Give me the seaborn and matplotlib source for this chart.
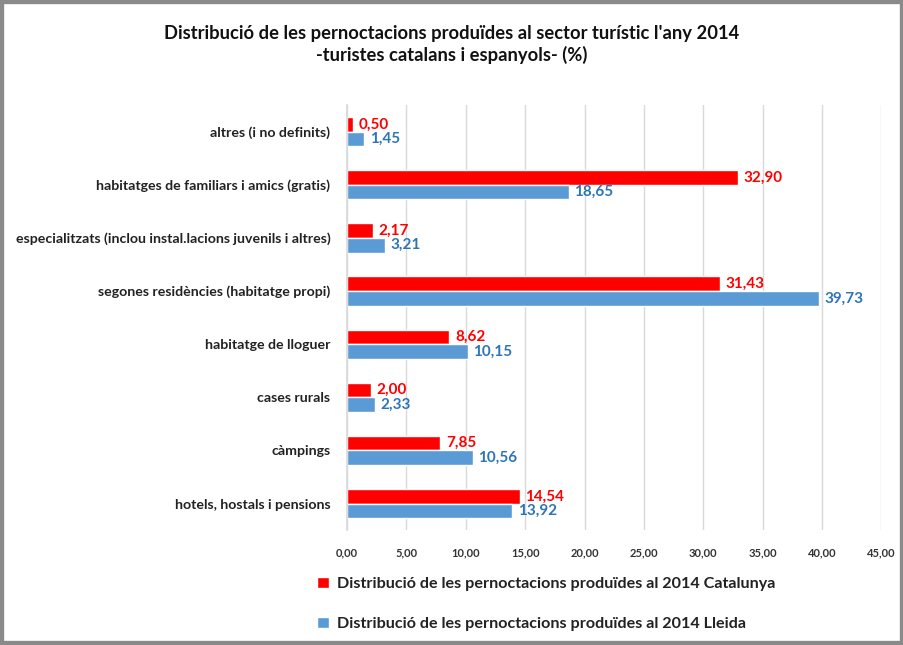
import seaborn as sns
import matplotlib.pyplot as plt
import pandas as pd
from matplotlib.patches import Rectangle

# Data
categories = ["altres (i no definits)",
              "habitatges de familiars i amics (gratis)",
              "especialitzats (inclou instal.lacions juvenils i altres)",
              "segones residències (habitatge propi)",
              "habitatge de lloguer",
              "cases rurals",
              "càmpings",
              "hotels, hostals i pensions"]
catalunya = [0.50, 32.90, 2.17, 31.43, 8.62, 2.00, 7.85, 14.54]
lleida = [1.45, 18.65, 3.21, 39.73, 10.15, 2.33, 10.56, 13.92]
series = ["Distribució de les pernoctacions produïdes al 2014 Catalunya",
          "Distribució de les pernoctacions produïdes al 2014 Lleida"]
xticks = [0, 5, 10, 15, 20, 25, 30, 35, 40, 45]

df = pd.DataFrame({
    "cat": categories * 2,
    "val": catalunya + lleida,
    "serie": [series[0]] * len(categories) + [series[1]] * len(categories),
})

sns.set_theme(style="white")
plt.rcParams['font.family'] = ['Lato', 'DejaVu Sans']

red = "#FF0000"
blue = "#5B9BD5"
red_txt = "#FF0000"
blue_txt = "#2E75B6"

fig = plt.figure(figsize=(9.04, 6.45), dpi=100)
ax = fig.add_axes([0.384, 0.178, 0.591, 0.659])

sns.barplot(data=df, x="val", y="cat", hue="serie", orient="h",
            palette=[red, blue], width=0.55, ax=ax, saturation=1,
            legend=True)

ax.set_xlim(0, 45)
ax.set_xticks(xticks)
ax.set_xticklabels([f"{t:.2f}".replace('.', ',') for t in xticks],
                   fontsize=8, fontweight='bold', color='#333333')
ax.tick_params(axis='x', length=0, pad=12)
ax.tick_params(axis='y', length=0, pad=12)
ax.set_yticks(range(len(categories)))
ax.set_yticklabels(categories, fontsize=10.2, fontweight='bold', color='#222222')
ax.set_xlabel("")
ax.set_ylabel("")
ax.xaxis.grid(True, color='#d9d9d9', lw=1)
ax.set_axisbelow(True)
for s in ['top', 'right', 'bottom']:
    ax.spines[s].set_visible(False)
ax.spines['left'].set_color('#d9d9d9')

# data labels
for cont, col in zip(ax.containers, [red_txt, blue_txt]):
    labels = [f"{b.get_width():.2f}".replace('.', ',') for b in cont]
    ax.bar_label(cont, labels=labels, padding=4, color=col,
                 fontsize=11, fontweight='bold')

# legend
handles, lbls = ax.get_legend_handles_labels()
ax.legend_.remove()
fig.legend(handles, lbls, loc='upper left', bbox_to_anchor=(0.335, 0.128),
           ncol=1, frameon=False, fontsize=11.6, handlelength=0.7,
           handleheight=0.7, labelspacing=1.6, handletextpad=0.5)
for t in fig.legends[0].get_texts():
    t.set_fontweight('bold')
    t.set_color('#222222')

fig.text(0.5, 0.962, "Distribució de les pernoctacions produïdes al sector turístic l'any 2014\n-turistes catalans i espanyols- (%)",
         ha='center', va='top', fontsize=13.2, fontweight='bold',
         color='#111111', linespacing=1.3)

# screenshot frame
fig.patches.append(Rectangle((0, 0), 1, 1, transform=fig.transFigure,
                             fill=False, ec='#8a8a8a', lw=6))

plt.savefig('out.png', dpi=100)
